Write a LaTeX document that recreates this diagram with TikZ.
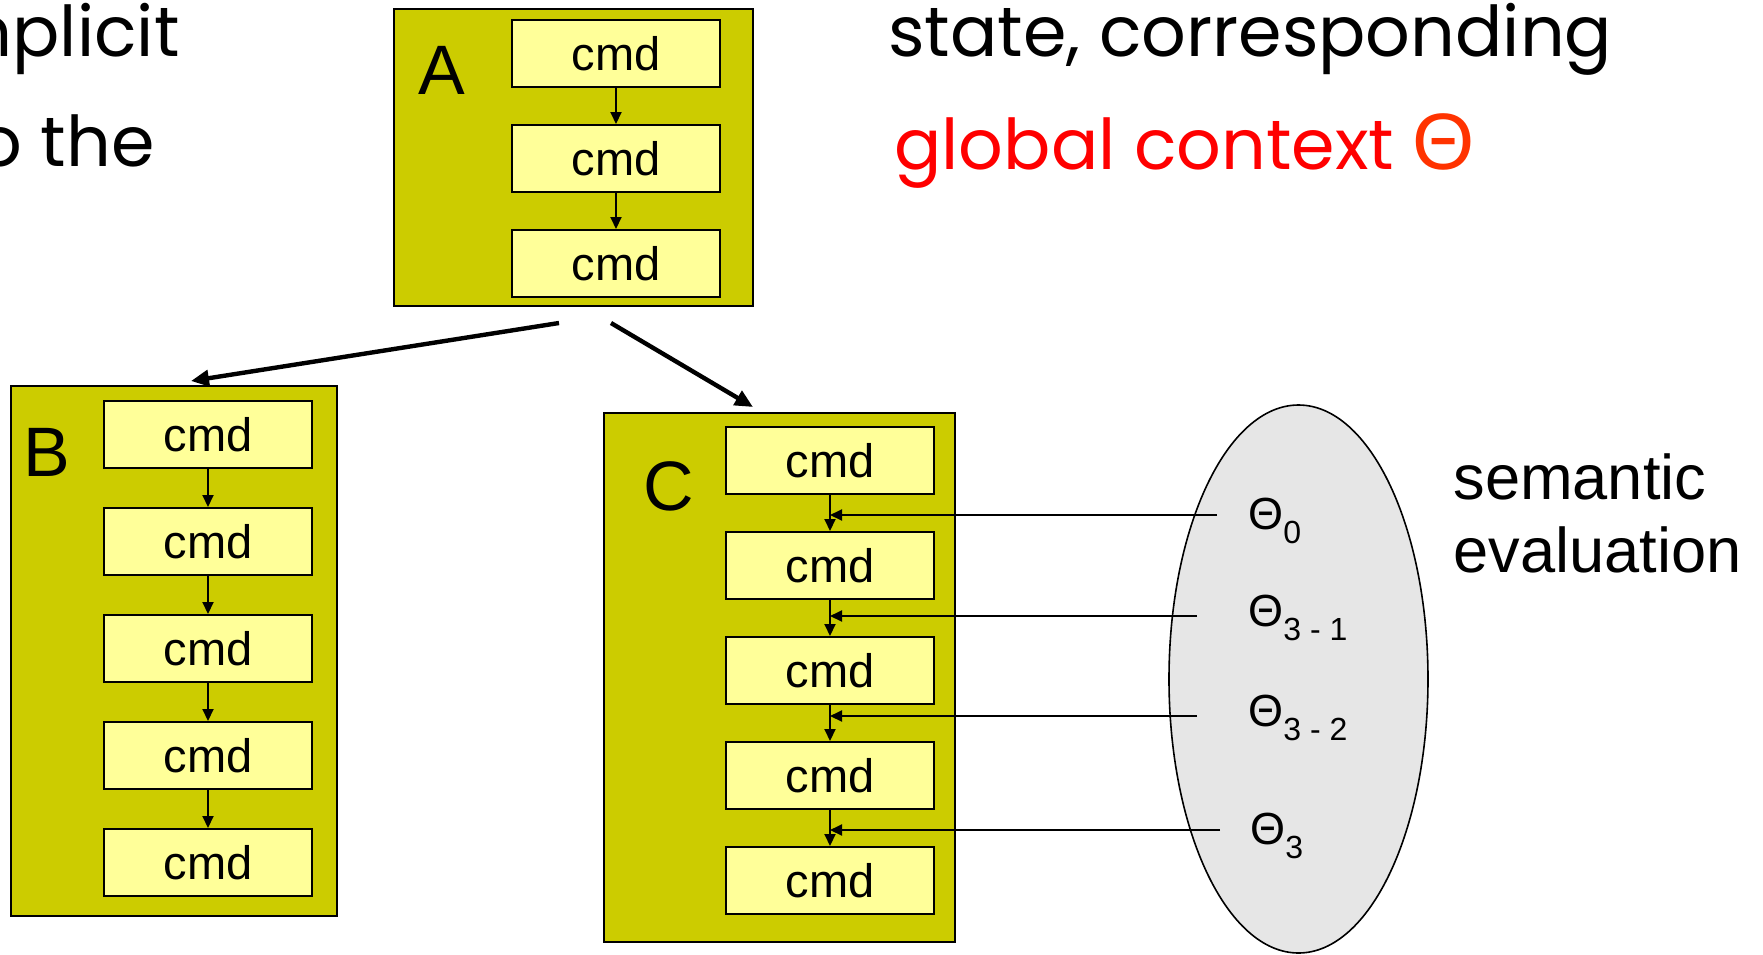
\documentclass[tikz,border=0pt]{standalone}
\usepackage{fontspec}
\setmainfont{Liberation Sans}
\newfontfamily\handfont{Poppins}
\usetikzlibrary{arrows.meta,positioning,calc,shapes.geometric}
\definecolor{olivebox}{HTML}{CCCC00}
\definecolor{cmdyellow}{HTML}{FFFF99}
\definecolor{evalgrey}{HTML}{E6E6E6}
\definecolor{ctxred}{HTML}{FF0000}
\definecolor{thetared}{HTML}{FF3300}
\newcommand{\thetasub}[1]{Θ\raisebox{-7pt}{\fontsize{16}{16}\selectfont #1}}

\begin{document}
\begin{tikzpicture}[
  x=0.5pt, y=-0.5pt,
  cmd/.style={
    draw=black,
    fill=cmdyellow,
    line width=1pt,
    minimum width=104pt,
    minimum height=33.5pt,
    inner sep=0pt,
    font=\fontsize{23.5}{23.5}\selectfont
  },
  proc/.style={draw=black,fill=olivebox,line width=1pt,inner sep=0pt},
  proclabel/.style={inner sep=0pt,font=\fontsize{35}{35}\selectfont},
  flow/.style={-{Triangle[length=6pt,width=5.5pt]},line width=1pt},
  split/.style={-{Triangle[length=9pt,width=8pt]},line width=2.2pt},
  theta/.style={anchor=base west,inner sep=0pt,font=\fontsize{22.5}{22.5}\selectfont},
  hand/.style={inner sep=0pt,font=\handfont\fontsize{35}{35}\selectfont}
]
  \useasboundingbox (0,0) rectangle (1763,954);
  \clip (0,0) rectangle (1763,954);
  \fill[white] (0,0) rectangle (1763,954);

  \node[hand,anchor=base east] (implicit) at (180,56) {implicit};
  \node[hand,anchor=base east] (tothe) at (155,166) {to the};
  \node[hand,anchor=base west] (state) at (888,56) {state, corresponding};
  \node[hand,anchor=base west,text=ctxred] (context) at (894,169) {global context\hspace{9pt}{\rmfamily\fontsize{40}{40}\selectfont\textcolor{thetared}{Θ}}};

  \node[proc,minimum width=179.5pt,minimum height=148.5pt] (procA) at (573.5,157.5) {};
  \node[proclabel] (labA) at (442,70) {A};
  \node[cmd] (a1) at (616,53.5) {cmd};
  \foreach \i [count=\j from 2] in {1,2}
    \node[cmd,below=18pt of a\i] (a\j) {cmd};
  \foreach \i [count=\j from 2] in {1,2}
    \draw[flow] (a\i) -- (a\j);

  \node[proc,minimum width=163pt,minimum height=265pt] (procB) at (174,651) {};
  \node[proclabel] (labB) at (47,452) {B};
  \node[cmd] (b1) at (208,434.5) {cmd};
  \foreach \i [count=\j from 2] in {1,...,4}
    \node[cmd,below=19pt of b\i] (b\j) {cmd};
  \foreach \i [count=\j from 2] in {1,...,4}
    \draw[flow] (b\i) -- (b\j);

  \node[proc,minimum width=175.5pt,minimum height=264.5pt] (procC) at (779.5,677.5) {};
  \node[proclabel] (labC) at (669,486) {C};
  \node[cmd] (c1) at (830,460.5) {cmd};
  \foreach \i [count=\j from 2] in {1,...,4}
    \node[cmd,below=18pt of c\i] (c\j) {cmd};
  \foreach \i [count=\j from 2] in {1,...,4}
    \draw[flow] (c\i) -- (c\j);

  \coordinate (splitL) at (559,323);
  \coordinate (splitR) at (611,323);
  \draw[split] (splitL) -- ([xshift=8.5pt,yshift=2pt]procB.north);
  \draw[split] (splitR) -- ([xshift=-13.25pt,yshift=2.5pt]procC.north);

  \node[ellipse,draw=black,fill=evalgrey,line width=0.8pt,minimum width=129.5pt,minimum height=274pt,inner sep=0pt] (semantic) at (1298.5,679) {};
  \node[theta] (th0) at (1248,529) {\thetasub{0}};
  \node[theta] (th1) at (1248,626) {\thetasub{3 - 1}};
  \node[theta] (th2) at (1248,726) {\thetasub{3 - 2}};
  \node[theta] (th3) at (1250,844) {\thetasub{3}};
  \node[anchor=north west,align=left,inner sep=0pt,font=\fontsize{31.6}{36.5}\selectfont] (evaltext) at (1453,453) {semantic\\evaluation};

  \coordinate (in0) at (1217,515);
  \coordinate (in1) at (1197,616);
  \coordinate (in2) at (1197,716);
  \coordinate (in3) at (1220,830);
  \draw[flow] (in0) -- (in0 -| c1.south);
  \draw[flow] (in1) -- (in1 -| c2.south);
  \draw[flow] (in2) -- (in2 -| c3.south);
  \draw[flow] (in3) -- (in3 -| c4.south);
\end{tikzpicture}
\end{document}
